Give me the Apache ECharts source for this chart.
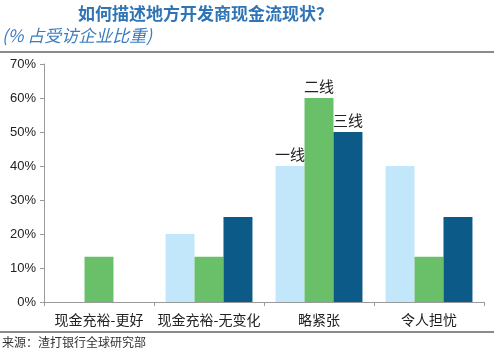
<!DOCTYPE html>
<html>
<head>
<meta charset="utf-8">
<script src="https://cdn.jsdelivr.net/npm/echarts@6/dist/echarts.min.js"></script>
<style>
  html, body { margin: 0; padding: 0; background: #fff; }
  #chart { width: 500px; height: 353px; }
</style>
</head>
<body>
<div id="chart"></div>
<script>
// 数据
var categories = ['现金充裕-更好', '现金充裕-无变化', '略紧张', '令人担忧'];
var tier1 = [null, 20, 40, 40];
var tier2 = [13.3, 13.3, 60, 13.3];
var tier3 = [null, 25, 50, 25];
var seriesNames = ['一线', '二线', '三线'];
var yTicks = [0, 10, 20, 30, 40, 50, 60, 70];

var colors = ['#c2e7fb', '#6abf69', '#0b5a88'];
var cjk = '"Noto Sans CJK SC", sans-serif';

function barLabel() {
  return {
    show: true,
    position: 'top',
    distance: 4,
    fontFamily: cjk,
    fontSize: 15,
    color: '#222',
    formatter: function (p) {
      // 只在“略紧张”上标出系列名
      return p.dataIndex === 2 ? p.seriesName : '';
    }
  };
}

var chart = echarts.init(document.getElementById('chart'));
var option = {
  animation: false,
  color: colors,
  title: [{
    text: '如何描述地方开发商现金流现状？',
    left: 78,
    top: 5,
    padding: 0,
    textStyle: { fontFamily: cjk, fontSize: 17, fontWeight: 'bold', color: '#2f75b5' }
  }, {
    text: '(% 占受访企业比重)',
    left: 2,
    top: 27,
    padding: 0,
    textStyle: { fontFamily: cjk, fontSize: 17, fontWeight: 'normal', fontStyle: 'italic', color: '#3a7cc0' }
  }, {
    text: '来源：渣打银行全球研究部',
    left: 2,
    top: 336,
    padding: 0,
    textStyle: { fontFamily: cjk, fontSize: 12, fontWeight: 'normal', color: '#333' }
  }],
  graphic: [{
    type: 'line',
    shape: { x1: 0, y1: 52, x2: 494, y2: 52 },
    style: { stroke: '#8a8a8a', lineWidth: 2 }
  }, {
    type: 'line',
    shape: { x1: 0, y1: 332, x2: 494, y2: 332 },
    style: { stroke: '#8a8a8a', lineWidth: 2 }
  }],
  grid: { left: 44, right: 16, top: 64, bottom: 51 },
  xAxis: {
    type: 'category',
    data: categories,
    axisLine: { lineStyle: { color: '#9a9a9a' } },
    axisTick: { show: true, length: 4, lineStyle: { color: '#9a9a9a' } },
    axisLabel: { fontFamily: cjk, fontSize: 14, color: '#222', margin: 11, interval: 0 }
  },
  yAxis: {
    type: 'value',
    min: yTicks[0],
    max: yTicks[yTicks.length - 1],
    interval: 10,
    splitLine: { show: false },
    axisLine: { show: true, lineStyle: { color: '#9a9a9a' } },
    axisTick: { show: true, length: 4, lineStyle: { color: '#9a9a9a' } },
    axisLabel: {
      fontFamily: '"Liberation Sans", Arial, sans-serif',
      fontSize: 13,
      color: '#222',
      margin: 8,
      formatter: '{value}%'
    }
  },
  series: [{
    name: seriesNames[0],
    type: 'bar',
    data: tier1,
    barGap: '0%',
    barCategoryGap: '21%',
    label: barLabel()
  }, {
    name: seriesNames[1],
    type: 'bar',
    data: tier2,
    barGap: '0%',
    barCategoryGap: '21%',
    label: barLabel()
  }, {
    name: seriesNames[2],
    type: 'bar',
    data: tier3,
    barGap: '0%',
    barCategoryGap: '21%',
    label: barLabel()
  }]
};
chart.setOption(option);
</script>
</body>
</html>
